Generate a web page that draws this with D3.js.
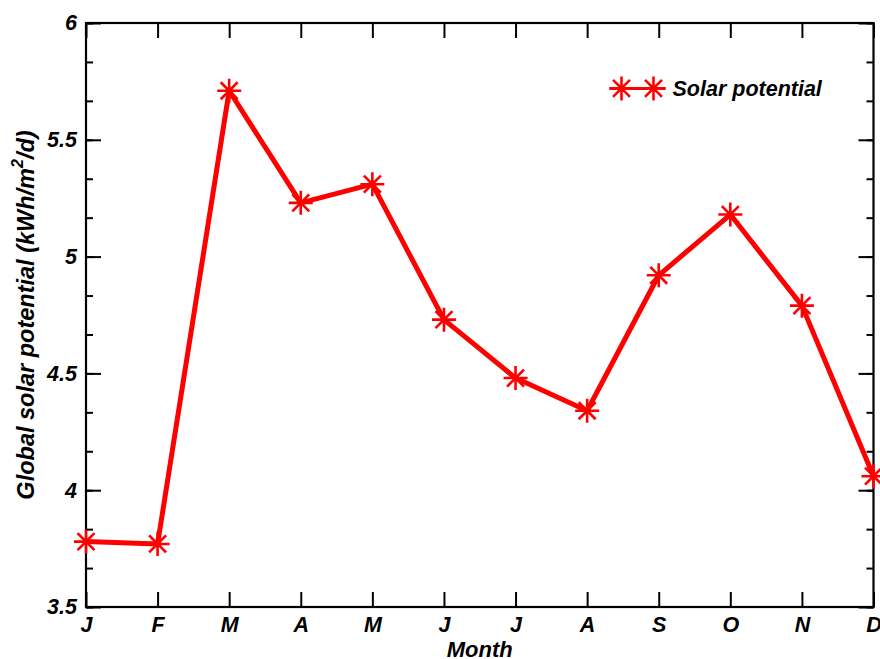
<!DOCTYPE html>
<html>
<head>
<meta charset="utf-8">
<script src="https://cdn.jsdelivr.net/npm/d3@7"></script>
<style>
  body { margin: 0; background: #fff; }
  text { font-family: "Liberation Sans", Arial, sans-serif; font-weight: bold; font-style: italic; }
</style>
</head>
<body>
<div id="chart"></div>
<script>
// month labels and values
var months = ["J", "F", "M", "A", "M", "J", "J", "A", "S", "O", "N", "D"];
var solar = [3.78, 3.77, 5.71, 5.23, 5.31, 4.73, 4.48, 4.34, 4.92, 5.18, 4.79, 4.06];
var yTicks = [3.5, 4, 4.5, 5, 5.5, 6];
var yMinor = [3.5, 3.6667, 3.8333, 4, 4.1667, 4.3333, 4.5, 4.6667, 4.8333, 5, 5.1667, 5.3333, 5.5, 5.6667, 5.8333, 6];
var seriesName = "Solar potential";

var width = 880, height = 659;
var margin = { top: 23, right: 6.5, bottom: 52, left: 86 };
var w = width - margin.left - margin.right;
var h = height - margin.top - margin.bottom;

var svg = d3.select("#chart").append("svg")
    .attr("width", width)
    .attr("height", height)
    .append("g")
    .attr("transform", "translate(" + margin.left + "," + margin.top + ")");

var x = d3.scaleLinear().domain([0, months.length - 1]).range([0, w]);
var y = d3.scaleLinear().domain([3.5, 6]).range([h, 0]);

// 8-armed asterisk marker
var star = {
    draw: function (ctx, size) {
        var r = Math.sqrt(size) / 2;
        for (var k = 0; k < 4; k++) {
            var a = k * Math.PI / 4;
            ctx.moveTo(-r * Math.cos(a), -r * Math.sin(a));
            ctx.lineTo(r * Math.cos(a), r * Math.sin(a));
        }
    }
};

function styleAxis(g) {
    g.select(".domain").remove();
    g.selectAll("line").attr("stroke", "#000").attr("stroke-width", 2);
    g.selectAll("text").attr("fill", "#000").style("font-size", "21.5px");
}

// bottom axis with labels
svg.append("g")
    .attr("transform", "translate(0," + h + ")")
    .call(d3.axisBottom(x).tickValues(d3.range(months.length)).tickSize(-15).tickPadding(10)
        .tickFormat(function (i) { return months[i]; }))
    .call(styleAxis);

// top axis ticks
svg.append("g")
    .call(d3.axisTop(x).tickValues(d3.range(months.length)).tickSize(-15).tickFormat(""))
    .call(styleAxis);

// left axis
svg.append("g")
    .call(d3.axisLeft(y).tickValues(yTicks).tickSize(-15).tickPadding(9)
        .tickFormat(function (d) { return d; }))
    .call(styleAxis);

svg.append("g")
    .call(d3.axisLeft(y).tickValues(yMinor).tickSize(-7).tickFormat(""))
    .call(styleAxis);

// right axis
svg.append("g")
    .attr("transform", "translate(" + w + ",0)")
    .call(d3.axisRight(y).tickValues(yTicks).tickSize(-15).tickFormat(""))
    .call(styleAxis);

svg.append("g")
    .attr("transform", "translate(" + w + ",0)")
    .call(d3.axisRight(y).tickValues(yMinor).tickSize(-7).tickFormat(""))
    .call(styleAxis);

// frame
svg.append("rect")
    .attr("width", w)
    .attr("height", h)
    .attr("fill", "none")
    .attr("stroke", "#000")
    .attr("stroke-width", 2.2);

// the line
var line = d3.line()
    .x(function (d, i) { return x(i); })
    .y(function (d) { return y(d); });

svg.append("path")
    .datum(solar)
    .attr("d", line)
    .attr("fill", "none")
    .attr("stroke", "#ff0000")
    .attr("stroke-width", 5)
    .attr("stroke-linejoin", "round");

svg.selectAll(".pt")
    .data(solar)
    .enter().append("path")
    .attr("class", "pt")
    .attr("transform", function (d, i) { return "translate(" + x(i) + "," + y(d) + ")"; })
    .attr("d", d3.symbol(star, 576))
    .attr("fill", "none")
    .attr("stroke", "#ff0000")
    .attr("stroke-width", 2.6);

// legend
var lg = svg.append("g").attr("transform", "translate(" + x(7.48) + "," + y(5.72) + ")");
lg.append("line")
    .attr("x1", -12).attr("x2", 44)
    .attr("stroke", "#ff0000").attr("stroke-width", 3);
lg.selectAll("path")
    .data([0, 32])
    .enter().append("path")
    .attr("transform", function (d) { return "translate(" + d + ",0)"; })
    .attr("d", d3.symbol(star, 576))
    .attr("fill", "none")
    .attr("stroke", "#ff0000")
    .attr("stroke-width", 2.6);
lg.append("text")
    .attr("x", 51)
    .attr("y", 7.5)
    .style("font-size", "21.5px")
    .text(seriesName);

// axis titles
svg.append("text")
    .attr("x", w / 2)
    .attr("y", h + 50)
    .attr("text-anchor", "middle")
    .style("font-size", "22px")
    .text("Month");

var yl = svg.append("text")
    .attr("transform", "translate(" + (-52) + "," + (h / 2) + ") rotate(-90)")
    .attr("text-anchor", "middle")
    .style("font-size", "23.5px");
yl.append("tspan").text("Global solar potential (kWh/m");
yl.append("tspan").attr("dy", -11).style("font-size", "16px").text("2");
yl.append("tspan").attr("dy", 11).text("/d)");
</script>
</body>
</html>
